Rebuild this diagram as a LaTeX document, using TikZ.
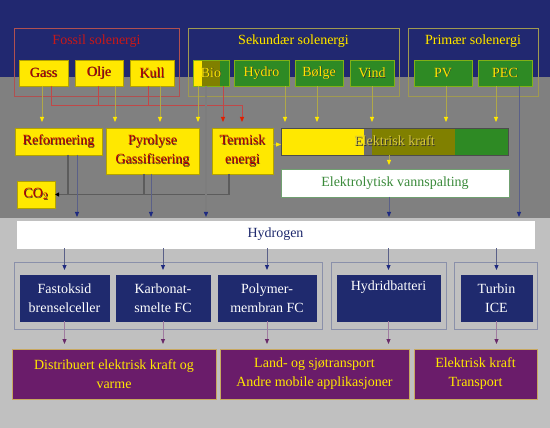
\documentclass[tikz,border=0pt]{standalone}
\usepackage{fontspec}
\setmainfont{Liberation Serif}
\usetikzlibrary{arrows.meta,calc}
\definecolor{navybg}{HTML}{212870}
\definecolor{midgray}{HTML}{808080}
\definecolor{lgray}{HTML}{C0C0C0}
\definecolor{yel}{HTML}{FFE800}
\definecolor{grn}{HTML}{2E8A24}
\definecolor{olv}{HTML}{808000}
\definecolor{redtitle}{HTML}{C81818}
\definecolor{redtxt}{HTML}{B80000}
\definecolor{fossilframe}{HTML}{B05050}
\definecolor{sekframe}{HTML}{A09A50}
\definecolor{ylline}{HTML}{B0A848}
\definecolor{redline}{HTML}{C04848}
\definecolor{redtip}{HTML}{E02000}
\definecolor{gline}{HTML}{5C5C5C}
\definecolor{bline}{HTML}{5A6088}
\definecolor{btip}{HTML}{1E2A80}
\definecolor{navybox}{HTML}{1F2A6E}
\definecolor{grpframe}{HTML}{8A90AA}
\definecolor{purp}{HTML}{6A1C6A}
\definecolor{pline}{HTML}{A07CA0}
\definecolor{ptip}{HTML}{6A2A6A}
\definecolor{purpframe}{HTML}{C8A860}
\definecolor{elvtxt}{HTML}{3A8A3A}
\definecolor{elvframe}{HTML}{70A070}
\definecolor{shd}{HTML}{3A3030}
\definecolor{elktxt}{HTML}{D8C840}
\newcommand\sh[1]{\makebox[0pt][l]{\kern0.6pt\raisebox{-0.6pt}{\textcolor{shd}{#1}}}#1}
\newcommand\shk[1]{\makebox[0pt][l]{\kern0.9pt\raisebox{-0.9pt}{\textcolor{black!80}{#1}}}#1}
\newcommand\bx[7]{\node[#2,anchor=north west,minimum width={(#5-#3)*1pt},minimum height={(#6-#4)*1pt}] (#1) at (#3,#4) {#7};}
\tikzset{
  every node/.style={inner sep=0pt,outer sep=0pt,align=center},
  ybox/.style={fill=yel,draw=yel!70!black,line width=0.6pt,text=redtxt},
  gbox/.style={fill=grn,draw=grn!60!yel,line width=0.6pt,text=yel},
  frame/.style={draw,line width=0.8pt},
  nbox/.style={fill=navybox,draw=navybox,text=white},
  pbox/.style={fill=purp,draw=purpframe,line width=0.5pt,text=yel},
  grp/.style={draw=grpframe,line width=1pt},
  yl/.style={draw=ylline,line width=0.9pt,-{Triangle[length=5pt,width=4pt,color=yel]},shorten >=6pt},
  rl/.style={draw=redline,line width=0.9pt,-{Triangle[length=5pt,width=4pt,color=redtip]},shorten >=6pt},
  gl/.style={draw=gline,line width=1.6pt},
  bl/.style={draw=bline,line width=0.9pt,-{Triangle[length=5pt,width=4pt,color=btip]},shorten >=4pt},
  pl/.style={draw=pline,line width=0.9pt,-{Triangle[length=5pt,width=4pt,color=ptip]},shorten >=5pt},
}
\begin{document}
\begin{tikzpicture}[x=1pt,y=-1pt,font=\fontsize{14}{19}\selectfont]
\useasboundingbox (0,0) rectangle (550,428);
\fill[navybg] (0,0) rectangle (550,77);
\fill[midgray] (0,77) rectangle (550,218);
\fill[lgray] (0,218) rectangle (550,428);

% top groups
\bx{fossil}{frame,draw=fossilframe}{14}{28}{179}{96}{}
\bx{sek}{frame,draw=sekframe}{188}{28}{399}{96}{}
\bx{prim}{frame,draw=sekframe}{408}{28}{538}{96}{}
\node[text=redtitle] (tfossil) at (96.5,41) {Fossil solenergi};
\node[text=yel] (tsek) at (293.5,41) {\sh{Sekundær solenergi}};
\node[text=yel] (tprim) at (473,41) {\sh{Primær solenergi}};

% source boxes
\bx{gass}{ybox}{19}{60}{68}{86}{\sh{Gass}}
\bx{olje}{ybox}{75}{60}{123}{86}{\sh{Olje}}
\bx{kull}{ybox}{130}{60}{174}{86}{\sh{Kull}}
\fill[olv] (193,60) rectangle (229,86);
\fill[yel] (193,60) rectangle (202,86);
\fill[grn] (220,60) rectangle (229,86);
\bx{bio}{draw=grn!60!yel,line width=0.6pt,text=yel}{193}{60}{229}{86}{\sh{Bio}}
\bx{hydro}{gbox}{234}{60}{289}{86}{\sh{Hydro}}
\bx{bolge}{gbox}{295}{60}{343}{86}{\sh{Bølge}}
\bx{vind}{gbox}{350}{60}{394}{86}{\sh{Vind}}
\bx{pv}{gbox}{414}{60}{472}{86}{\sh{PV}}
\bx{pec}{gbox}{478}{60}{532}{86}{\sh{PEC}}

% middle boxes
\bx{refo}{ybox}{15}{128}{102}{155}{\sh{Reformering}}
\bx{pyro}{ybox}{106}{128}{199}{174}{\sh{Pyrolyse}\\\sh{Gassifisering}}
\bx{term}{ybox}{212}{128}{273}{174}{\sh{Termisk}\\\sh{energi}}
\bx{co2}{ybox}{17}{181}{55}{208}{\sh{CO$_2$}}
\fill[yel] (281,128) rectangle (364,155);
\fill[midgray!85!black] (364,128) rectangle (372,155);
\fill[olv] (372,128) rectangle (455,155);
\fill[grn] (455,128) rectangle (508,155);
\bx{elk}{draw=gray!60!black,line width=0.8pt,text=elktxt}{281}{128}{508}{155}{\shk{Elektrisk kraft}}
\bx{elv}{fill=white,draw=elvframe,line width=0.8pt,text=elvtxt}{281}{169}{509}{197}{Elektrolytisk vannspalting}
\bx{hyd}{fill=white,draw=white}{17}{221}{534}{248}{\textcolor{navybox}{Hydrogen}}

% red connectors (behind)
\coordinate (rb1) at (242,105);
\draw[redline,line width=0.9pt] ([xshift=-1pt]olje.south) -- ([xshift=-1pt]olje.south |- rb1);
\draw[redline,line width=0.9pt] ([xshift=-4pt]kull.south) -- ([xshift=-4pt]kull.south |- rb1);
\draw[rl] ([xshift=7.5pt]gass.south) |- (rb1) -- (rb1 |- term.north);
\draw[rl] ([xshift=12pt]bio.south) -- ([xshift=12pt]bio.south |- term.north);

% top connectors (yellow)
\draw[yl] ([xshift=-1.5pt]gass.south) -- ([xshift=-1.5pt]gass.south |- refo.north);
\draw[yl] ([xshift=16pt]olje.south) -- ([xshift=16pt]olje.south |- pyro.north);
\draw[yl] ([xshift=8pt]kull.south) -- ([xshift=8pt]kull.south |- pyro.north);
\draw[yl] ([xshift=-13pt]bio.south) -- ([xshift=-13pt]bio.south |- pyro.north);
\draw[yl] ([xshift=23.5pt]hydro.south) -- ([xshift=23.5pt]hydro.south |- elk.north);
\draw[yl] ([xshift=-2pt]bolge.south) -- ([xshift=-2pt]bolge.south |- elk.north);
\draw[yl] (vind.south) -- (vind.south |- elk.north);
\draw[yl] ([xshift=3pt]pv.south) -- ([xshift=3pt]pv.south |- elk.north);
\draw[yl] ([xshift=-9pt]pec.south) -- ([xshift=-9pt]pec.south |- elk.north);
\draw[yl,shorten >=0pt] ([yshift=-3pt]term.east |- elk.west) -- ([yshift=-3pt]elk.west);
\draw[yl,shorten >=4pt] ([xshift=-5.5pt]elk.south) -- ([xshift=-5.5pt]elk.south |- elv.north);

% gray connectors to CO2
\draw[gl] ([xshift=9.5pt]refo.south) -- ([xshift=9.5pt]refo.south |- co2.east);
\draw[gl] ([xshift=-8.5pt]pyro.south) -- ([xshift=-8.5pt]pyro.south |- co2.east);
\draw[gl,-{Triangle[length=4pt,width=4pt,color=black]}] ([xshift=-13.5pt]term.south) |- (co2.east);

% to hydrogen
\draw[gl,line width=1.3pt,draw=gline!80,-{Triangle[length=5pt,width=4pt,color=btip]},shorten >=4pt] ([xshift=-5pt]bio.south) -- ([xshift=-5pt]bio.south |- hyd.north);
\draw[bl] ([xshift=18.5pt]refo.south) -- ([xshift=18.5pt]refo.south |- hyd.north);
\draw[bl] ([xshift=-1.5pt]pyro.south) -- ([xshift=-1.5pt]pyro.south |- hyd.north);
\draw[bl] ([xshift=-6pt]elv.south) -- ([xshift=-6pt]elv.south |- hyd.north);
\draw[bl] ([xshift=14pt]pec.south) -- ([xshift=14pt]pec.south |- hyd.north);

% bottom groups
\bx{g1}{grp}{14}{262}{322}{329}{}
\bx{g2}{grp}{331}{262}{446}{329}{}
\bx{g3}{grp}{454}{262}{537}{329}{}
\bx{fast}{nbox}{20}{275}{109}{321}{Fastoksid\\brenselceller}
\bx{karb}{nbox}{116}{275}{210}{321}{Karbonat-\\smelte FC}
\bx{poly}{nbox}{218}{275}{316}{321}{Polymer-\\membran FC}
\bx{hydr}{nbox}{337}{275}{440}{321}{Hydridbatteri\\\strut}
\bx{turb}{nbox}{461}{275}{532}{321}{Turbin\\ICE}

\foreach \n in {fast,karb,poly,hydr,turb}
  \draw[bl,shorten >=5pt] (hyd.south -| \n.north) -- (\n.north);

% purple boxes
\bx{dist}{pbox}{12}{349}{216}{399}{Distribuert elektrisk kraft og\\varme}
\bx{land}{pbox}{220}{349}{409}{399}{Land- og sjøtransport\\Andre mobile applikasjoner}
\bx{elkr}{pbox}{414}{349}{537}{399}{Elektrisk kraft\\Transport}

\draw[pl] (fast.south) -- (fast.south |- dist.north);
\draw[pl] (karb.south) -- (karb.south |- dist.north);
\draw[pl] (poly.south) -- (poly.south |- land.north);
\draw[pl] (hydr.south) -- (hydr.south |- land.north);
\draw[pl] (turb.south) -- (turb.south |- elkr.north);
\end{tikzpicture}
\end{document}
